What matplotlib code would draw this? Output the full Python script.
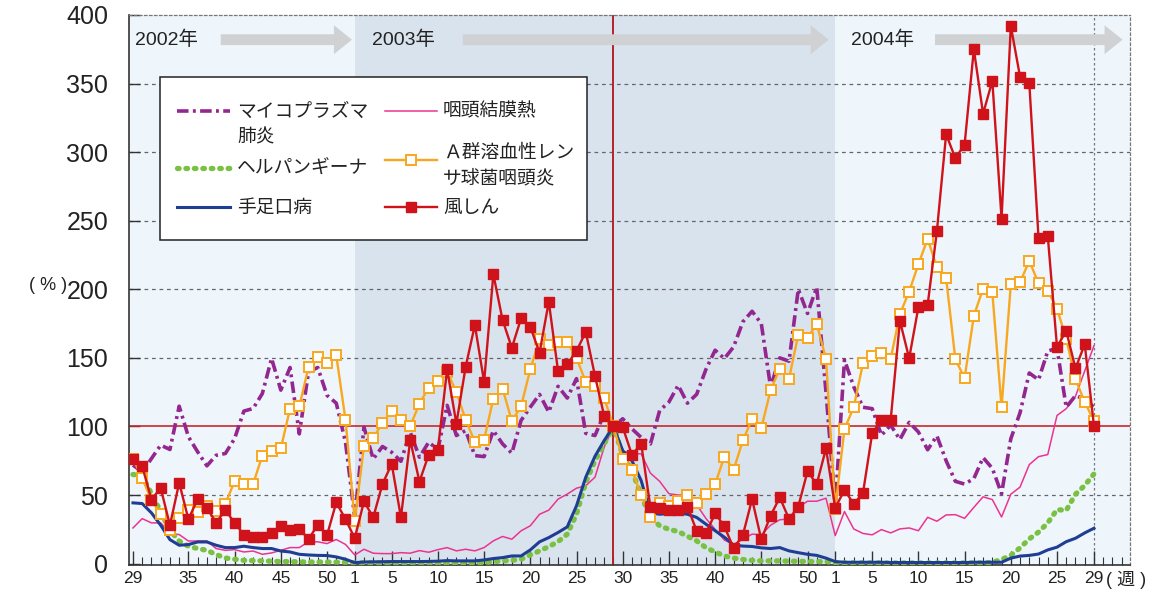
import numpy as np
import matplotlib
matplotlib.use("Agg")
import matplotlib.pyplot as plt
from matplotlib.lines import Line2D
from matplotlib.patches import Rectangle, FancyArrowPatch

plt.rcParams['font.family'] = ['Liberation Sans', 'Noto Sans CJK JP', 'DejaVu Sans']

# ---------------- data (index 0 = 2002 week 29 ... index 104 = 2004 week 29) -------------
week_labels = ['29', '35', '40', '45', '50', '1', '5', '10', '15', '20', '25', '30',
               '35', '40', '45', '50', '1', '5', '10', '15', '20', '25', '29']
week_label_pos = [0, 6, 11, 16, 21, 24, 28, 33, 38, 43, 48, 53, 58, 63, 68, 73, 76,
                  80, 85, 90, 95, 100, 104]

mycoplasma = [71.8, 67, 76.6, 86.4, 83.2, 114.8, 92.5, 81.5, 71.3, 79, 80.3, 91.2, 111.2,
              113.1, 124, 149.6, 126.5, 143, 94.6, 139.8, 143, 122.7, 117, 88.5,
              33.7, 99.5, 76.3, 85.4, 81.2, 74.6, 95.9, 77.6, 88.5, 83.2, 115.4, 93.4, 97,
              78.8, 78, 97, 87.3, 80.5, 104.4, 114.1, 123.4, 110.5, 129.3, 120.7, 134.9, 95,
              93.4, 109.3, 100, 105.6, 98.3, 92, 87.3, 111.7, 117.8, 130, 117, 123.4, 141.5,
              155.6, 149.5, 158, 176.3, 184, 175, 128.8, 150, 147.6, 200, 182.4, 201.5, 125,
              42, 148.6, 129, 114, 113, 93.6, 101, 90.5, 103, 96, 83, 93.2, 75, 60, 58, 62,
              77.3, 69.5, 51, 91, 110, 139, 134, 155, 157, 114, 122.5, 120, 114]

herpangina = [65, 64, 51, 37.7, 24.3, 16.5, 12.7, 11, 9.7, 6.6, 4.1, 3.2, 2.4, 2.2, 2, 1.8,
              1.5, 1.5, 1.3, 1.2, 1.2, 1.2, 1.1, 1,
              0.5, 0.5, 0.5, 0.5, 0.5, 0.5, 0.5, 0.5, 0.5, 0.5, 0.5, 0.5, 0.5, 0.6, 0.7, 1.5,
              2, 2.4, 3.2, 6.3, 9.3, 12.4, 16, 21.5, 36, 59.3, 75, 87.3, 100, 79, 68, 49.5,
              33.7, 27.6, 25, 23.4, 20, 16.6, 11.7, 8.5, 5.6, 4, 3, 2.4, 2, 2, 2, 1.8, 1.7,
              1.6, 1.5, 1.5,
              0.5, 0.5, 0.5, 0.5, 0.5, 0.5, 0.5, 0.5, 0.5, 0.5, 0.5, 0.5, 0.5, 0.5, 0.5, 0.5,
              0.5, 1, 3, 6, 11.5, 18, 23, 29.7, 39.4, 38.8, 50.6, 57, 65.4]

hfmd = [44.3, 43.8, 37, 28, 17.5, 13.4, 13.9, 15.8, 15.8, 13.4, 11.7, 11.7, 12.7, 11.7, 11,
        11, 9.2, 8.5, 6.8, 6.3, 6, 5.9, 4.9, 3.2,
        0.7, 1.2, 1.3, 1.4, 1.5, 1.5, 1.5, 1.5, 1.6, 1.8, 2.2, 2, 2, 2, 2.7, 3.7, 4.4, 5.6,
        5.6, 10, 15.9, 19, 22.7, 26.8, 42.2, 63, 78.3, 89.8, 100, 82.4, 75, 60.5, 37, 36,
        36.5, 37, 36, 33.7, 28.8, 24, 19.3, 13.5, 12.8, 12.5, 11.5, 11, 11.7, 9.3, 8, 6.8,
        6, 4,
        1.5, 1, 1, 1, 1, 1, 0.8, 0.8, 0.8, 0.8, 0.8, 0.8, 0.8, 0.8, 0.8, 1, 1, 1, 1, 4,
        5.5, 6, 7, 10, 12, 16, 18.5, 22.4, 25.8]

pcf = [26, 32.8, 29.7, 29.7, 21.9, 21.2, 16.5, 16.5, 16.5, 11, 9.7, 10.2, 8.5, 9.2, 6.8,
       7.8, 9.7, 11.7, 11.7, 15.9, 15.9, 14.6, 17.6, 14,
       6.3, 10.5, 7.6, 7.3, 7.3, 8, 7.6, 9.5, 8.3, 10.2, 11.7, 9.3, 10.5, 9.3, 11.7, 16.6,
       19.8, 17.8, 23.9, 27.6, 36, 39, 47, 50.7, 55, 56.8, 63, 85, 100, 82, 80.5, 80, 66,
       60, 51, 50, 49.8, 43, 33, 25, 17.2, 14, 17.7, 21.5, 21, 28, 32, 32.5, 41, 45.5,
       45.5, 47.7,
       20.4, 38, 25.3, 22, 21, 24.8, 22.4, 25.3, 26, 24, 33.8, 30.9, 35.5, 35.7, 33, 41,
       48.7, 46.7, 34, 50.6, 55.8, 72.2, 78, 79.5, 108, 113, 122, 140.5, 158.8]

strep = [76.6, 62.5, 46.2, 36.5, 24.3, 33.3, 39, 37.5, 41.8, 38.2, 43.8, 60, 58, 58, 78.8,
         82.2, 84, 113, 114.6, 143.4, 150.7, 146.3, 151.9, 104.9,
         31.2, 86, 91.5, 102.7, 111.2, 104.4, 100.2, 116.6, 128.3, 133, 139.8, 125.1, 105,
         88.8, 90.5, 120.2, 127.6, 103.9, 114.6, 141.7, 163.7, 159.3, 161.7, 161.5, 150,
         132.4, 129.3, 120.7, 100, 76.3, 68.3, 50, 34, 44, 42, 45.4, 50, 44, 50.7, 58, 78,
         68.3, 89.8, 105.4, 98.8, 126.3, 142.2, 134.8, 167, 164.6, 174.8, 149.2,
         40, 98.2, 114, 146, 151.7, 153.6, 149.2, 182, 198.3, 218.3, 236.8, 216, 208.3,
         148.9, 135.3, 180.7, 200.5, 197.9, 113.9, 203.6, 205, 220.8, 204.4, 199, 185.9,
         164, 134.5, 117.8, 104]

rubella = [76.6, 71, 46.7, 55.2, 28, 58.9, 32.4, 47, 40.6, 29.9, 39, 29.7, 21.2, 19.5, 19.5,
           22.4, 27.5, 24.8, 25.6, 17.8, 28.3, 20.7, 44.6, 32.4,
           18.5, 45.4, 33.7, 58, 72.7, 33.7, 90.2, 59.8, 79.3, 83.2, 141.7, 102, 143.4, 174,
           132.4, 211, 177.6, 157.3, 178.8, 172.7, 153.7, 191, 140.5, 145.4, 155, 169, 136.8,
           107.6, 100, 99.5, 79.3, 87.3, 41, 40.2, 39, 39, 41.5, 24, 22, 36.6, 27.3, 11.2,
           20.7, 47, 17.6, 34.9, 48.3, 32.5, 41.6, 67.3, 58, 84,
           40.6, 53.7, 43.5, 51.3, 95, 104.7, 104.7, 177, 149.7, 187, 188.6, 242.3, 313,
           295.6, 305.5, 375, 328, 352, 251.6, 392, 355, 350.6, 237.5, 239, 158, 169.7,
           142.3, 160, 100.6]

labels = ['マイコプラズマ\n肺炎', 'ヘルパンギーナ', '手足口病',
          '咽頭結膜熱', 'Ａ群溶血性レン\nサ球菌咽頭炎', '風しん']
years = ['2002年', '2003年', '2004年']

# ---------------- figure -------------
W, H = 1154, 591
fig = plt.figure(figsize=(W / 100, H / 100), dpi=100)
fig.patch.set_facecolor('white')


def fx(px):
    return px / W


def fy(py):
    return 1 - py / H


ax = fig.add_axes([fx(129), fy(565), fx(1130) - fx(129), fy(15) - fy(565)])
ax.set_facecolor('#EEF6FC')
ax.set_xlim(-0.43, 107.9)
ax.set_ylim(-1, 400)

x = np.arange(len(rubella))

ax.axvspan(24, 76, color='#D9E3EE', zorder=0, lw=0)

for yv in [50, 150, 200, 250, 300, 350]:
    ax.axhline(yv, color='#666666', lw=0.9, linestyle=(0, (3, 3)), zorder=1)
ax.axvline(104, color='#777777', lw=0.9, linestyle=(0, (2, 2)), zorder=1)
ax.axhline(100, color='#C8282D', lw=1.2, zorder=2)
ax.axvline(52, color='#B8202A', lw=1.4, zorder=2)

# year labels & arrows
year_pos = [(0.2, 9.2, 24.0), (25.9, 35.4, 75.6), (77.7, 86.5, 107.4)]
for yl, (tx, a0, a1) in zip(years, year_pos):
    ax.text(tx, 382, yl, fontsize=14, color='#222222', va='center', ha='left', zorder=3)
    arr = FancyArrowPatch((a0, 382), (a1, 382),
                          arrowstyle='simple,head_width=1.6,head_length=1.0,tail_width=0.6',
                          mutation_scale=13, color='#D0D1D3', lw=0, zorder=2)
    ax.add_patch(arr)

# series
c_my, c_he, c_hf, c_pc, c_st, c_ru = '#93278F', '#7AC143', '#1F3E93', '#EC3390', '#F8A81F', '#D0121B'
green_ls = (0, (0.3, 1.3))
purple_ls = (0, (3.2, 1.2, 0.8, 1.2))
ax.plot(x, pcf, color=c_pc, lw=1.1, zorder=4)
ax.plot(x, herpangina, color=c_he, lw=3.8, linestyle=green_ls,
        dash_capstyle='round', zorder=4)
ax.plot(x, hfmd, color=c_hf, lw=2.2, zorder=5)
ax.plot(x, mycoplasma, color=c_my, lw=2.6, linestyle=purple_ls, zorder=5)
ax.plot(x, strep, color=c_st, lw=1.7, marker='s', markersize=7.5, markerfacecolor='white',
        markeredgecolor=c_st, markeredgewidth=1.4, zorder=6)
ax.plot(x, rubella, color=c_ru, lw=1.7, marker='s', markersize=7, markerfacecolor=c_ru,
        markeredgecolor=c_ru, zorder=7)

# axes cosmetics
for s in ['top', 'right']:
    ax.spines[s].set_linestyle((0, (2, 2)))
    ax.spines[s].set_color('#777777')
    ax.spines[s].set_linewidth(0.9)
ax.spines['left'].set_color('#333333')
ax.spines['bottom'].set_color('#333333')
ax.spines['left'].set_linewidth(1.2)
ax.spines['bottom'].set_linewidth(1.2)

ax.set_yticks(np.arange(0, 401, 50))
ax.set_yticklabels([str(v) for v in range(0, 401, 50)], fontsize=18, color='#222222')
ax.tick_params(axis='y', direction='in', length=8, width=1, color='#333333', pad=15)
ax.set_xticks(week_label_pos)
ax.set_xticklabels(week_labels, fontsize=12.5, color='#222222')
ax.set_xticks(np.arange(0, 108), minor=True)
ax.tick_params(axis='x', which='major', direction='in', length=10, width=1,
               color='#333333', pad=4)
ax.tick_params(axis='x', which='minor', direction='in', length=6, width=0.8, color='#333333')

fig.text(fx(48), fy(285), '( % )', fontsize=13, ha='center', va='center', color='#222222')
fig.text(fx(1106), fy(580), '( 週 )', fontsize=13, ha='left', va='center', color='#222222')

# legend (manual layout, drawn on figure)
fig.add_artist(Rectangle((fx(160), fy(240)), fx(587) - fx(160), fy(77) - fy(240),
                         transform=fig.transFigure, facecolor='white',
                         edgecolor='#222222', lw=1.1, zorder=10))
leg_rows = [
    (c_my, dict(lw=2.6, linestyle=purple_ls), (177, 230, 111), (237, 124)),
    (c_he, dict(lw=3.8, linestyle=green_ls, dash_capstyle='round'), (177, 230, 168), (237, 168)),
    (c_hf, dict(lw=2.2), (177, 230, 207), (237, 207)),
    (c_pc, dict(lw=1.1), (385, 437, 111), (443, 111)),
    (c_st, dict(lw=1.7, marker='s', markersize=7.5, markerfacecolor='white',
                markeredgecolor=c_st, markeredgewidth=1.4, markevery=[1]), (385, 437, 160), (443, 165)),
    (c_ru, dict(lw=1.7, marker='s', markersize=7, markerfacecolor=c_ru,
                markeredgecolor=c_ru, markevery=[1]), (385, 437, 207), (443, 207)),
]
for lab, (col, kw, (x0, x1, yy), (tx, ty)) in zip(labels, leg_rows):
    ln = Line2D([fx(x0), fx((x0 + x1) / 2), fx(x1)], [fy(yy)] * 3, color=col,
                transform=fig.transFigure, zorder=11, **kw)
    fig.add_artist(ln)
    fig.text(fx(tx), fy(ty), lab, fontsize=13.5, ha='left', va='center',
             color='#222222', linespacing=1.25, zorder=12,
             family=['Noto Sans CJK JP', 'DejaVu Sans'])

fig.savefig('out.png', dpi=100)
